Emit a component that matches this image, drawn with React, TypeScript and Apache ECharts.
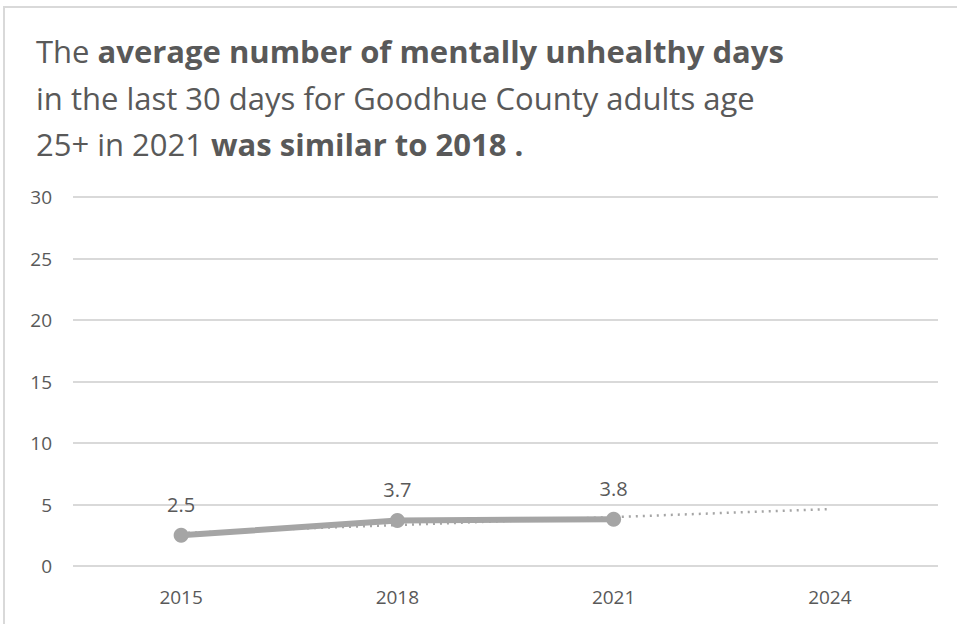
import React, { useEffect, useRef } from "react";
import * as echarts from "echarts";

const years = ["2015", "2018", "2021", "2024"];
const unhealthyDays = [2.5, 3.7, 3.8, null];
const trendValues = [2.68, 3.33, 3.98, 4.63];
const yTicks = { min: 0, max: 30, interval: 5 };

const FONT = "'Open Sans', sans-serif";
const GREY_TEXT = "#595959";
const LINE = "#a5a5a5";

export default function App() {
  const ref = useRef<HTMLDivElement>(null);
  useEffect(() => {
    if (!ref.current) return;
    const chart = echarts.init(ref.current, null, { renderer: "svg" });
    chart.setOption({
      animation: false,
      backgroundColor: "#ffffff",
      graphic: [
        {
          type: "rect",
          shape: { x: 4, y: 7, width: 1000, height: 700 },
          style: { fill: "none", stroke: "#d9d9d9", lineWidth: 2 },
          silent: true,
        },
      ],
      title: {
        left: 31,
        top: 23,
        text:
          "{n|The }{b|average number of mentally unhealthy days}\n" +
          "{n|in the last 30 days for Goodhue County adults age}\n" +
          "{n|25+ in 2021 }{b|was similar to 2018 .}",
        textStyle: {
          fontWeight: "normal",
          fontFamily: FONT,
          fontSize: 31,
          color: GREY_TEXT,
          rich: {
            n: { fontFamily: FONT, fontSize: 31, fontWeight: "normal", color: GREY_TEXT, lineHeight: 46.5 },
            b: { fontFamily: FONT, fontSize: 31, fontWeight: "bold", color: GREY_TEXT, lineHeight: 46.5 },
          },
        },
      },
      grid: { left: 73, right: 19, top: 197, bottom: 58, containLabel: false },
      xAxis: {
        type: "category",
        data: years,
        boundaryGap: true,
        axisLine: { show: false },
        axisTick: { show: false },
        axisLabel: { color: GREY_TEXT, fontFamily: FONT, fontSize: 19, margin: 21 },
      },
      yAxis: {
        type: "value",
        min: yTicks.min,
        max: yTicks.max,
        interval: yTicks.interval,
        axisLine: { show: false },
        axisTick: { show: false },
        axisLabel: { color: GREY_TEXT, fontFamily: FONT, fontSize: 19, margin: 21 },
        splitLine: { lineStyle: { color: "#d9d9d9", width: 2 } },
      },
      series: [
        {
          name: "Trend",
          type: "line",
          data: trendValues,
          symbol: "none",
          lineStyle: { color: LINE, width: 2.5, type: [2, 5] },
          silent: true,
          z: 1,
        },
        {
          name: "Mentally unhealthy days",
          type: "line",
          data: unhealthyDays,
          symbol: "circle",
          symbolSize: 15,
          itemStyle: { color: LINE },
          lineStyle: { color: LINE, width: 6 },
          label: {
            show: true,
            position: "top",
            distance: 13,
            color: GREY_TEXT,
            fontFamily: FONT,
            fontSize: 20,
            formatter: (p: any) => Number(p.value).toFixed(1),
          },
          z: 2,
        },
      ],
    });
    return () => chart.dispose();
  }, []);
  return (
    <div
      ref={ref}
      style={{ position: "fixed", left: 0, top: 0, width: 957, height: 624 }}
    />
  );
}
